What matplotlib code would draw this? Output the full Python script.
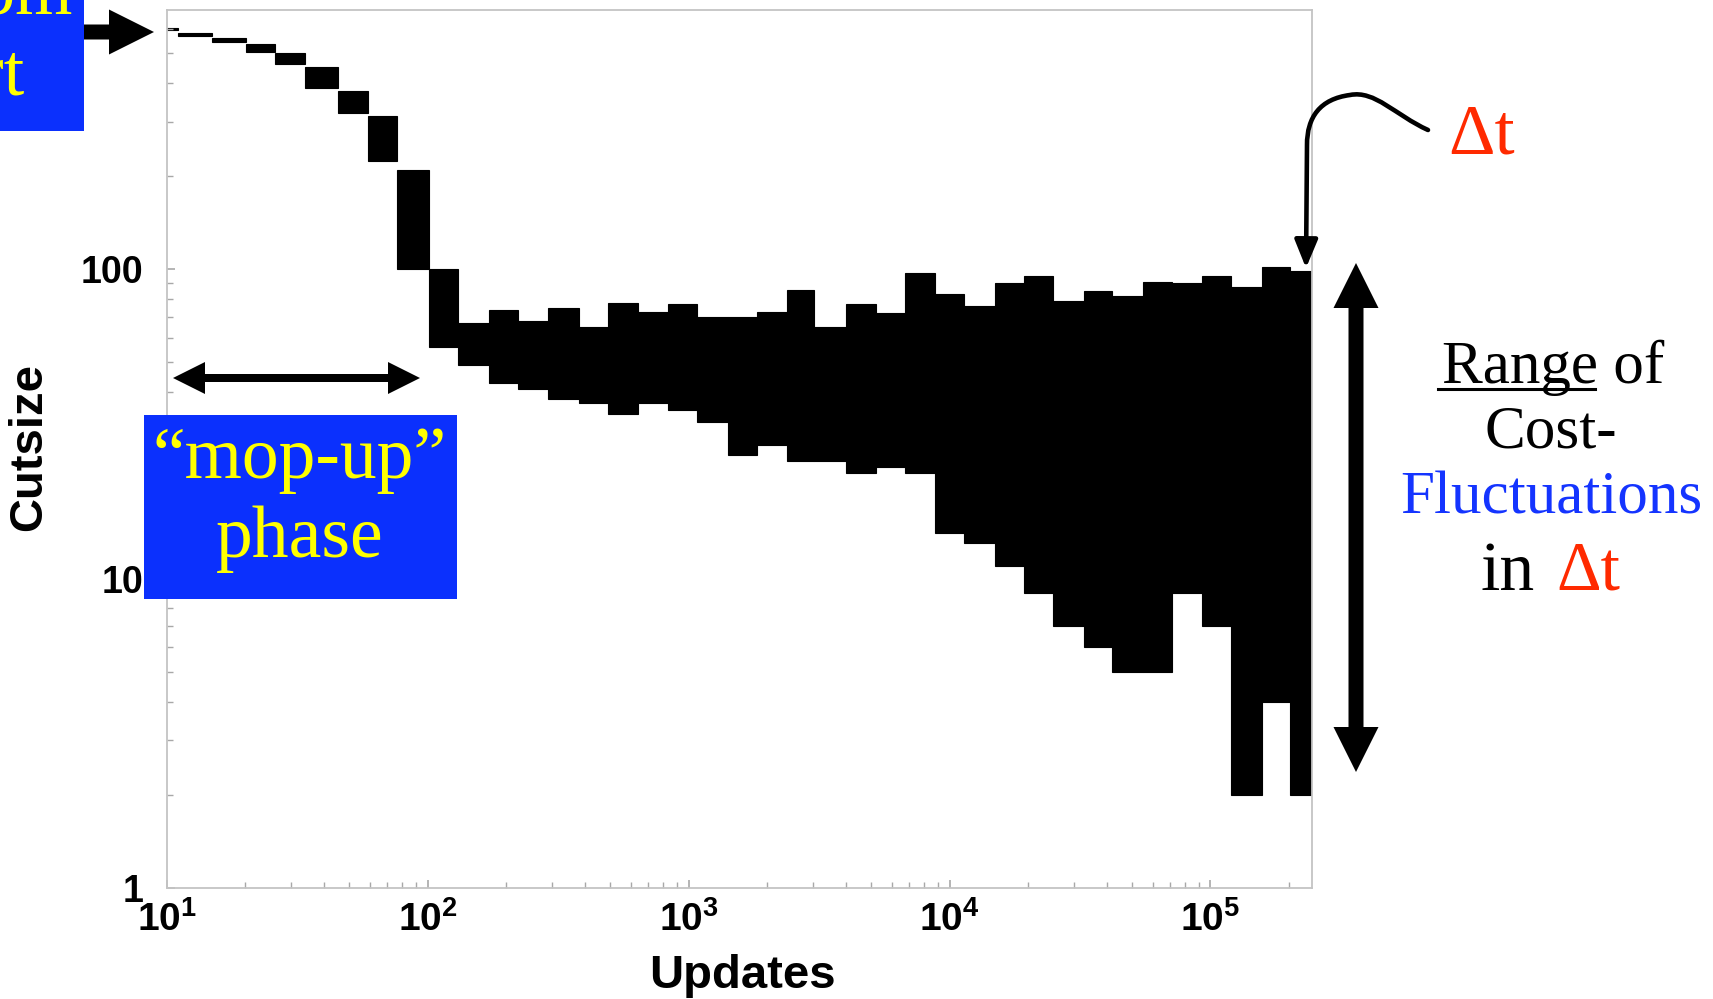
import numpy as np
import matplotlib
matplotlib.use('Agg')
from matplotlib import pyplot as plt
from matplotlib import patches
from matplotlib.path import Path


# bin edges along the update axis (log spaced)
EDGES = [10.0, 11.0, 14.9, 20.1, 26.1, 34.0, 45.3, 58.9, 76.3, 100.8,
         131.3, 172, 222.5, 289, 379.6, 490, 640, 833, 1075, 1420,
         1822, 2393, 3029, 4023, 5238, 6761, 8804, 11330, 14980, 19330,
         24950, 32770, 42030, 55220, 71290, 92800, 119800, 157300, 201800,
         245000]

# largest and smallest cutsize seen within each bin
CUT_MAX = [602, 583, 562, 537, 501, 452, 378, 313, 209, 100,
           67, 74, 68, 75, 65, 78, 73, 77, 70, 70,
           73, 86, 65, 77, 72, 97, 83, 76, 90, 95,
           79, 85, 82, 91, 90, 95, 88, 102, 99]
CUT_MIN = [594, 568, 544, 505, 460, 386, 320, 224, 100, 56,
           49, 43, 41, 38, 37, 34, 37, 35, 32, 25,
           27, 24, 24, 22, 23, 22, 14, 13, 11, 9,
           7, 6, 5, 5, 9, 7, 2, 4, 2]

X_TICKS = [1e1, 1e2, 1e3, 1e4, 1e5]
X_TICK_LABELS = [r'$\mathbf{10^{1}}$', r'$\mathbf{10^{2}}$', r'$\mathbf{10^{3}}$',
                 r'$\mathbf{10^{4}}$', r'$\mathbf{10^{5}}$']
Y_TICKS = [1, 10, 100]
Y_TICK_LABELS = ['1', '10', '100']

W, H = 1713, 999
BOX_BLUE = '#0b30fd'
YELLOW = '#ffff00'
RED = '#ff2a00'
TEXT_BLUE = '#1434ff'
SERIF = 'Liberation Serif'

plt.rcParams['font.family'] = ['Liberation Sans', 'DejaVu Sans']
plt.rcParams['mathtext.fontset'] = 'custom'
plt.rcParams['mathtext.bf'] = 'Liberation Sans:bold'
plt.rcParams['mathtext.rm'] = 'Liberation Sans:bold'


def main_axes(fig):
    ax = fig.add_axes([166.7 / W, 1 - 887.7 / H, (1312 - 166.7) / W, (887.7 - 10) / H])
    ax.set_xscale('log')
    ax.set_yscale('log')

    edges = np.array(EDGES)
    hi = np.array(CUT_MAX, dtype=float)
    lo = np.array(CUT_MIN, dtype=float)
    ax.bar(edges[:-1], hi - lo, width=np.diff(edges), bottom=lo, align='edge',
           color='black', edgecolor='black', linewidth=0.8)

    ax.set_xlim(10, 245000)
    ax.set_ylim(1, 690)

    ax.set_xticks(X_TICKS)
    ax.set_xticklabels(X_TICK_LABELS)
    ax.set_yticks(Y_TICKS)
    ax.set_yticklabels(Y_TICK_LABELS)

    for s in ax.spines.values():
        s.set_color('#c4c4c4')
        s.set_linewidth(1.3)
    ax.tick_params(which='both', direction='in', color='#a8a8a8')
    ax.tick_params(which='major', length=6, width=1.2)
    ax.tick_params(which='minor', length=4, width=1.0)
    ax.tick_params(axis='x', labelsize=28, pad=10)
    ax.tick_params(axis='y', labelsize=27, pad=17)
    for lab in ax.get_yticklabels():
        lab.set_fontweight('bold')

    ax.set_xlabel('Updates', fontsize=34, fontweight='bold')
    ax.xaxis.set_label_coords(0.503, -0.076)
    ax.set_ylabel('Cutsize', fontsize=34, fontweight='bold')
    ax.yaxis.set_label_coords(-0.101, 0.502)
    return ax


def arrow(ov, x, y, dx, dy, width, head):
    ov.add_patch(patches.FancyArrow(x, y, dx, dy, width=width, head_width=head,
                                    head_length=head, length_includes_head=True,
                                    color='black', linewidth=0))


def double_arrow(ov, x0, y0, x1, y1, width, head):
    # one polygon with a head at both ends
    p0, p1 = np.array([x0, y0], float), np.array([x1, y1], float)
    u = (p1 - p0) / np.hypot(*(p1 - p0))
    n = np.array([-u[1], u[0]])
    a, b = p0 + u * head, p1 - u * head
    pts = [p0, a + n * head / 2, a + n * width / 2, b + n * width / 2,
           b + n * head / 2, p1, b - n * head / 2, b - n * width / 2,
           a - n * width / 2, a - n * head / 2]
    ov.add_patch(patches.Polygon(pts, closed=True, color='black', linewidth=0))


def annotations(fig):
    ov = fig.add_axes([0, 0, 1, 1], zorder=5)
    ov.set_xlim(0, W)
    ov.set_ylim(H, 0)
    ov.axis('off')
    ov.patch.set_alpha(0)

    # "Random Start" box, cut by the left and top edge as in the slide
    ov.add_patch(patches.Rectangle((-50, -50), 134, 181, color=BOX_BLUE, linewidth=0))
    ov.text(73, 13, 'Random', ha='right', va='baseline', color=YELLOW,
            fontsize=53, family=SERIF)
    ov.text(24, 95, 'Start', ha='right', va='baseline', color=YELLOW,
            fontsize=53, family=SERIF)
    arrow(ov, 84, 32, 70, 0, 15, 45)

    # "mop-up" phase box and its double arrow
    ov.add_patch(patches.Rectangle((144, 415), 313, 184, color=BOX_BLUE, linewidth=0))
    ov.text(300, 478, '\u201cmop-up\u201d', ha='center', va='baseline', color=YELLOW,
            fontsize=53, family=SERIF)
    ov.text(300, 557, 'phase', ha='center', va='baseline', color=YELLOW,
            fontsize=53, family=SERIF)
    double_arrow(ov, 173, 378, 420, 378, 8, 32)

    # Delta t label with curved arrow
    verts = [(1428, 130), (1395, 115), (1375, 90), (1350, 95),
             (1320, 99), (1307, 117), (1307, 145), (1306, 268)]
    codes = [Path.MOVETO, Path.CURVE4, Path.CURVE4, Path.CURVE4,
             Path.CURVE4, Path.CURVE4, Path.CURVE4, Path.LINETO]
    ov.add_patch(patches.FancyArrowPatch(path=Path(verts, codes),
                                         arrowstyle='-|>,head_length=0.85,head_width=0.35',
                                         mutation_scale=20, color='black', lw=3.3))
    ov.text(1448, 153, '\u0394t', ha='left', va='baseline', color=RED,
            fontsize=52, family=SERIF)

    # range double arrow
    double_arrow(ov, 1356, 263, 1356, 772, 15, 45)

    ov.text(1553, 383, 'Range of', ha='center', va='baseline', color='black',
            fontsize=44, family=SERIF)
    ov.plot([1438, 1595], [389, 389], color='black', lw=2.2)
    ov.text(1551, 447, 'Cost-', ha='center', va='baseline', color='black',
            fontsize=44, family=SERIF)
    ov.text(1551, 513, 'Fluctuations', ha='center', va='baseline', color=TEXT_BLUE,
            fontsize=44, family=SERIF)
    ov.text(1535, 590, 'in', ha='right', va='baseline', color='black',
            fontsize=50, family=SERIF)
    ov.text(1556, 590, '\u0394t', ha='left', va='baseline', color=RED,
            fontsize=50, family=SERIF)


def main():
    fig = plt.figure(figsize=(W / 100, H / 100), dpi=100)
    main_axes(fig)
    annotations(fig)
    fig.savefig('out.png', dpi=100, facecolor='white')


if __name__ == '__main__':
    main()
